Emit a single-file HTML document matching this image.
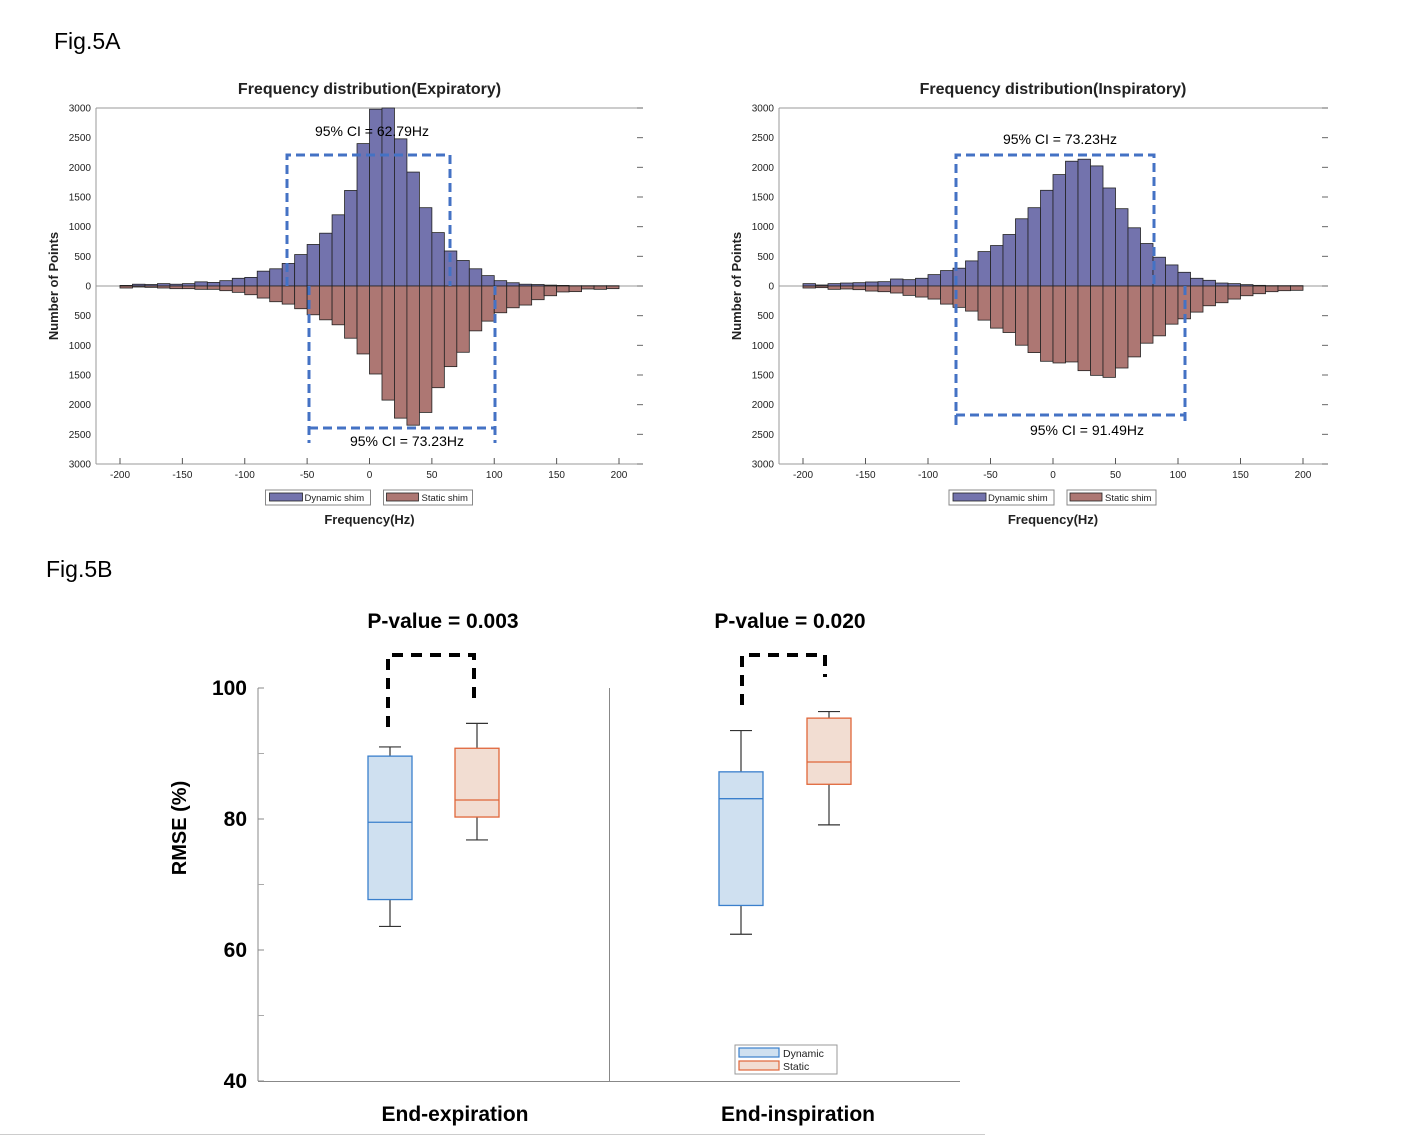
<!DOCTYPE html>
<html><head><meta charset="utf-8">
<style>
html,body{margin:0;padding:0;background:#fff;}
svg{display:block;font-family:"Liberation Sans",Arial,sans-serif;}
</style></head>
<body>
<svg id="fig" width="1406" height="1136" viewBox="0 0 1406 1136" xmlns="http://www.w3.org/2000/svg">
<text x="54" y="49" font-size="23" fill="#000">Fig.5A</text>
<text x="46" y="577" font-size="23" fill="#000">Fig.5B</text>
<line x1="0" y1="1134.5" x2="985" y2="1134.5" stroke="#ccc" stroke-width="1"/>
<g id="histL"></g>
<g id="histR"></g>
<g id="boxp"></g>
</svg>
<script>
// ---------- Histogram data (bins of 10 Hz from -200 to 190) ----------
const binStarts = [-200,-190,-180,-170,-160,-150,-140,-130,-120,-110,-100,-90,-80,-70,-60,-50,-40,-30,-20,-10,0,10,20,30,40,50,60,70,80,90,100,110,120,130,140,150,160,170,180,190];
const expDynamic = [10,30,25,40,30,40,70,60,90,130,145,250,290,380,530,700,890,1200,1610,2400,2980,3000,2480,1920,1320,900,590,430,290,175,90,55,30,25,15,10,5,5,5,5];
const expStatic = [34,17,23,34,45,45,56,56,79,107,147,203,265,305,383,485,570,654,880,1145,1483,1923,2227,2346,2131,1714,1359,1117,756,592,451,367,321,231,164,100,95,50,56,45];
const insDynamic = [40,17,40,50,56,68,73,118,107,130,192,260,300,423,580,682,868,1133,1320,1613,1878,2103,2137,2024,1652,1303,981,716,485,355,231,130,96,50,40,23,11,6,6,6];
const insStatic = [34,28,56,50,62,85,96,118,158,186,220,305,360,423,575,710,784,998,1122,1269,1297,1280,1427,1506,1540,1382,1195,964,840,643,553,440,333,282,220,164,130,96,79,73];
const xTicks = [-200,-150,-100,-50,0,50,100,150,200];
const yTickVals = [3000,2500,2000,1500,1000,500,0,500,1000,1500,2000,2500,3000];
const yTickSigned = [3000,2500,2000,1500,1000,500,0,-500,-1000,-1500,-2000,-2500,-3000];
const legendLabels = ["Dynamic shim","Static shim"];

// ---------- Box plot data ----------
const groups = ["End-expiration","End-inspiration"];
const pValues = ["P-value = 0.003","P-value = 0.020"];
const dynStats = [[63.6,67.7,79.5,89.6,91.0],[62.4,66.8,83.1,87.2,93.5]]; // min,q1,med,q3,max
const staStats = [[76.8,80.3,82.9,90.8,94.6],[79.1,85.3,88.7,95.4,96.4]];
const rmseTicks = [40,60,80,100];
const rmseMinor = [50,70,90];

const NS = "http://www.w3.org/2000/svg";
function mk(parent, tag, attrs, text){
  const e = document.createElementNS(NS, tag);
  for (const k in attrs) e.setAttribute(k, attrs[k]);
  if (text !== undefined) e.textContent = text;
  parent.appendChild(e);
  return e;
}

function drawHist(gid, cfg, dyn, sta, title, ciTop, ciBot){
  const g = document.getElementById(gid);
  const X = v => cfg.x0 + (v + 200) / 400 * (cfg.x1 - cfg.x0);
  const Y = v => 286 - v / 3000 * 178;
  // axes box lines
  let e;
  e = mk(g,'line',{x1:cfg.left,y1:108,x2:cfg.right,y2:108,stroke:'#999','stroke-width':1});
   
  e = mk(g,'line',{x1:cfg.left,y1:464,x2:cfg.right,y2:464,stroke:'#999','stroke-width':1});
   
  e = mk(g,'line',{x1:cfg.left,y1:108,x2:cfg.left,y2:464,stroke:'#999','stroke-width':1});
   
  e = mk(g,'line',{x1:cfg.left,y1:286,x2:cfg.right,y2:286,stroke:'#999','stroke-width':1});
   
  // y ticks
  yTickSigned.forEach((v,i)=>{
    const y = Y(v);
    const t = mk(g,'text',{x:cfg.left-5,y:y+3.5,'font-size':10,'text-anchor':'end',fill:'#222'}, String(yTickVals[i]));
     
    const tk = mk(g,'line',{x1:cfg.right-6,y1:y,x2:cfg.right,y2:y,stroke:'#666','stroke-width':1});
     
  });
  // x ticks
  xTicks.forEach(v=>{
    const x = X(v);
    const tk = mk(g,'line',{x1:x,y1:458,x2:x,y2:464,stroke:'#555','stroke-width':1});
     
    const t = mk(g,'text',{x:x,y:478,'font-size':10,'text-anchor':'middle',fill:'#222'}, String(v));
     
  });
  // bars
  binStarts.forEach((b,i)=>{
    const xa = X(b), xb = X(b+10);
    const r1 = mk(g,'rect',{x:xa,y:Y(dyn[i]),width:xb-xa,height:Y(0)-Y(dyn[i]),fill:'#7373ad',stroke:'#222','stroke-width':0.8});
     
    const r2 = mk(g,'rect',{x:xa,y:Y(0),width:xb-xa,height:Y(-sta[i])-Y(0),fill:'#ad7773',stroke:'#222','stroke-width':0.8});
     
  });
  // CI brackets
  const ds = {stroke:'#4472c4','stroke-width':3,'stroke-dasharray':'9 5',fill:'none'};
  const p1 = mk(g,'path',Object.assign({d:`M${ciTop.x1},${ciTop.yb} L${ciTop.x1},155 L${ciTop.x2},155 L${ciTop.x2},${ciTop.yb2}`},ds));
   
  const p2 = mk(g,'path',Object.assign({d:`M${ciBot.x1},${ciBot.yt} L${ciBot.x1},${ciBot.y+ciBot.ext} M${ciBot.x1},${ciBot.y} L${ciBot.x2},${ciBot.y} M${ciBot.x2},286 L${ciBot.x2},${ciBot.y+ciBot.ext}`},ds));
   
  const c1 = mk(g,'text',{x:ciTop.lx,y:ciTop.ly,'font-size':14,'text-anchor':'middle',fill:'#000'}, ciTop.label);
   
  const c2 = mk(g,'text',{x:ciBot.lx,y:ciBot.ly,'font-size':14,'text-anchor':'middle',fill:'#000'}, ciBot.label);
   
  // title, axis labels
  const cx = (cfg.x0+cfg.x1)/2;
  const tt = mk(g,'text',{x:cx,y:94,'font-size':16,'font-weight':'bold','text-anchor':'middle',fill:'#222'}, title);
   
  const yl = mk(g,'text',{x:0,y:0,'font-size':13,'font-weight':'bold','text-anchor':'middle',fill:'#222',transform:`translate(${cfg.left-38},286) rotate(-90)`}, 'Number of Points');
   
  const xl = mk(g,'text',{x:cx,y:524,'font-size':13,'font-weight':'bold','text-anchor':'middle',fill:'#222'}, 'Frequency(Hz)');
   
  // legend
  const lx = cx - 104;
  const lg = mk(g,'g',{});
   
  const b1 = mk(lg,'rect',{x:lx,y:490,width:105,height:15,fill:'#fff',stroke:'#888','stroke-width':1});
   
  const s1 = mk(lg,'rect',{x:lx+4,y:493,width:33,height:8,fill:'#7373ad',stroke:'#222','stroke-width':0.8});
   
  const l1 = mk(lg,'text',{x:lx+39,y:501,'font-size':9.5,fill:'#222'}, legendLabels[0]);
   
  const b2 = mk(lg,'rect',{x:lx+118,y:490,width:89,height:15,fill:'#fff',stroke:'#888','stroke-width':1});
   
  const s2 = mk(lg,'rect',{x:lx+121,y:493,width:32,height:8,fill:'#ad7773',stroke:'#222','stroke-width':0.8});
   
  const l2 = mk(lg,'text',{x:lx+156,y:501,'font-size':9.5,fill:'#222'}, legendLabels[1]);
   
}

drawHist('histL',{left:96,right:643,x0:120,x1:619},expDynamic,expStatic,'Frequency distribution(Expiratory)',
  {x1:287,x2:450,yb:286,yb2:286,lx:372,ly:136,label:'95% CI = 62.79Hz'},
  {x1:309,x2:495,y:428,yt:286,ext:15,lx:407,ly:446,label:'95% CI = 73.23Hz'});
drawHist('histR',{left:779,right:1328,x0:803,x1:1303},insDynamic,insStatic,'Frequency distribution(Inspiratory)',
  {x1:956,x2:1154,yb:425,yb2:286,lx:1060,ly:144,label:'95% CI = 73.23Hz'},
  {x1:956,x2:1185,y:415,yt:415,ext:10,lx:1087,ly:435,label:'95% CI = 91.49Hz'});
const grL = document.getElementById('histL');  
const grR = document.getElementById('histR');  

// ---------- Box plot ----------
(function(){
  const g = document.getElementById('boxp');
  
  
  const Y = v => 1081 - (v - 40) / 60 * 393;
  let e;
  e = mk(g,'line',{x1:258,y1:688,x2:258,y2:1081,stroke:'#888','stroke-width':1});
   
  e = mk(g,'line',{x1:258,y1:1081.5,x2:960,y2:1081.5,stroke:'#888','stroke-width':1});
   
  e = mk(g,'line',{x1:609.5,y1:688,x2:609.5,y2:1081,stroke:'#888','stroke-width':1});
   
  rmseTicks.forEach(v=>{
    const t = mk(g,'text',{x:247,y:Y(v)+7,'font-size':21,'font-weight':'bold','text-anchor':'end',fill:'#000'}, String(v));
     
    const tk = mk(g,'line',{x1:258,y1:Y(v),x2:264,y2:Y(v),stroke:'#888'});
     
  });
  rmseMinor.forEach(v=>{
    const tk = mk(g,'line',{x1:258,y1:Y(v),x2:264,y2:Y(v),stroke:'#aaa'});
     
  });
  const yt = mk(g,'text',{x:0,y:0,'font-size':20,'font-weight':'bold','text-anchor':'middle',fill:'#000',transform:'translate(186,828) rotate(-90)'}, 'RMSE (%)');
   
  const centers = [[390,477],[741,829]];
  const labelX = [455,798];
  const pX = [443,790];
  function box(cx, s, stroke, fill, name){
    const bg = mk(g,'g',{});
     
    const w = mk(bg,'line',{x1:cx,y1:Y(s[4]),x2:cx,y2:Y(s[0]),stroke:'#333','stroke-width':1.2});
     
    const c1 = mk(bg,'line',{x1:cx-11,y1:Y(s[4]),x2:cx+11,y2:Y(s[4]),stroke:'#333','stroke-width':1.2});
     
    const c2 = mk(bg,'line',{x1:cx-11,y1:Y(s[0]),x2:cx+11,y2:Y(s[0]),stroke:'#333','stroke-width':1.2});
     
    const r = mk(bg,'rect',{x:cx-22,y:Y(s[3]),width:44,height:Y(s[1])-Y(s[3]),fill:fill,stroke:stroke,'stroke-width':1.3});
     
    const m = mk(bg,'line',{x1:cx-22,y1:Y(s[2]),x2:cx+22,y2:Y(s[2]),stroke:stroke,'stroke-width':1.3});
     
  }
  groups.forEach((gname,i)=>{
    box(centers[i][0], dynStats[i], '#3a7fcc', '#cfe0f0', 'box-dynamic-'+i);
    box(centers[i][1], staStats[i], '#e0663a', '#f2ddd2', 'box-static-'+i);
    const t = mk(g,'text',{x:labelX[i],y:1121,'font-size':21,'font-weight':'bold','text-anchor':'middle',fill:'#000'}, gname);
     
    const p = mk(g,'text',{x:pX[i],y:628,'font-size':21,'font-weight':'bold','text-anchor':'middle',fill:'#000'}, pValues[i]);
     
  });
  const br = [{a:388,b:474,ya:727,yb:698},{a:742,b:825,ya:705,yb:677}];
  br.forEach((o,i)=>{
    const p = mk(g,'path',{d:`M${o.a},${o.ya} L${o.a},655 L${o.b},655 L${o.b},${o.yb}`,stroke:'#000','stroke-width':4,fill:'none','stroke-dasharray':'11 8'});
     
  });
  const lg = mk(g,'g',{});
   
  const lb = mk(lg,'rect',{x:735,y:1045,width:102,height:29,fill:'#fff',stroke:'#999'});
   
  const s1 = mk(lg,'rect',{x:739,y:1048,width:40,height:9,fill:'#cfe0f0',stroke:'#3a7fcc','stroke-width':1.2});
   
  const t1 = mk(lg,'text',{x:783,y:1057,'font-size':10.5,fill:'#222'}, 'Dynamic');
   
  const s2 = mk(lg,'rect',{x:739,y:1061,width:40,height:9,fill:'#f2ddd2',stroke:'#e0663a','stroke-width':1.2});
   
  const t2 = mk(lg,'text',{x:783,y:1070,'font-size':10.5,fill:'#222'}, 'Static');
   
})();
</script>
</body></html>
